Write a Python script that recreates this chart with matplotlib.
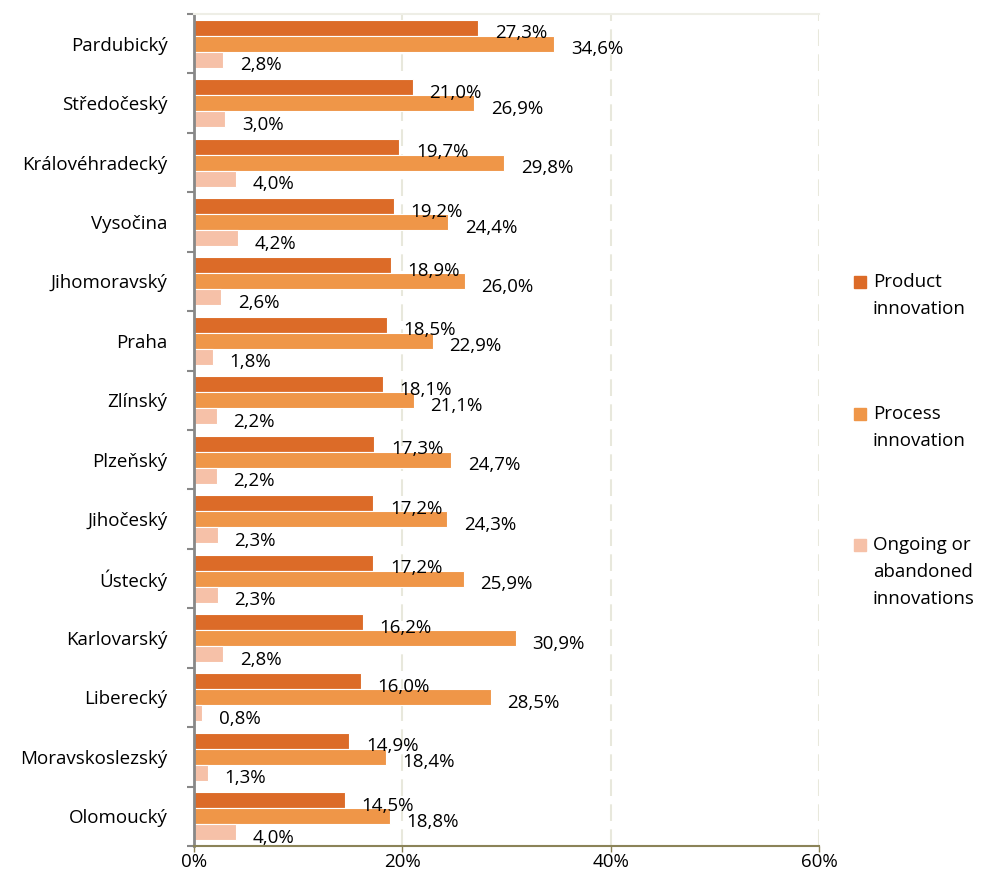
import numpy as np
import matplotlib.pyplot as plt
from matplotlib.patches import Rectangle

plt.rcParams['font.family'] = ['Open Sans', 'DejaVu Sans']

regions = ['Pardubický', 'Středočeský', 'Královéhradecký', 'Vysočina', 'Jihomoravský',
           'Praha', 'Zlínský', 'Plzeňský', 'Jihočeský', 'Ústecký', 'Karlovarský',
           'Liberecký', 'Moravskoslezský', 'Olomoucký']
product = [27.3, 21.0, 19.7, 19.2, 18.9, 18.5, 18.1, 17.3, 17.2, 17.2, 16.2, 16.0, 14.9, 14.5]
process = [34.6, 26.9, 29.8, 24.4, 26.0, 22.9, 21.1, 24.7, 24.3, 25.9, 30.9, 28.5, 18.4, 18.8]
ongoing = [2.8, 3.0, 4.0, 4.2, 2.6, 1.8, 2.2, 2.2, 2.3, 2.3, 2.8, 0.8, 1.3, 4.0]

series = [('Product\ninnovation', product, '#DC6B28'),
          ('Process\ninnovation', process, '#EF9648'),
          ('Ongoing or\nabandoned\ninnovations', ongoing, '#F6C1A8')]

fs = 13.5

fig = plt.figure(figsize=(9.82, 8.94), dpi=100)
ax = fig.add_axes([194 / 982, 1 - 846 / 894, (819 - 194) / 982, (846 - 14) / 894])

y = np.arange(len(regions))
h = 0.27
for i, (name, vals, col) in enumerate(series):
    pos = y + (i - 1) * h
    ax.barh(pos, vals, height=h, color=col, edgecolor='white', linewidth=0.8)
    for p, v in zip(pos, vals):
        ax.annotate(f'{v:.1f}%'.replace('.', ','), (v, p), xytext=(12, -4),
                    textcoords='offset points', ha='left', va='center', fontsize=fs)

ax.set_xlim(0, 60)
ax.set_ylim(len(regions) - 0.5, -0.5)
ax.set_xticks([0, 20, 40, 60])
ax.set_xticklabels(['0%', '20%', '40%', '60%'], fontsize=fs)
ax.set_yticks(y)
ax.set_yticklabels(regions, fontsize=fs)
ax.set_yticks(np.arange(len(regions) + 1) - 0.5, minor=True)
ax.tick_params(axis='y', which='major', length=0, pad=19)
ax.tick_params(axis='y', which='minor', length=5, width=1.5, color='#888888')
ax.tick_params(axis='x', length=4, width=1, color='#8B8358', pad=1)

ax.xaxis.grid(True, color='#E8E8DC', linestyle=(0, (8, 4)), linewidth=1.5)
ax.set_axisbelow(True)
ax.spines['left'].set_color('#888888')
ax.spines['left'].set_linewidth(2)
ax.spines['bottom'].set_color('#8B8358')
ax.spines['bottom'].set_linewidth(1.5)
ax.spines['top'].set_color('#EEEEE6')
ax.spines['top'].set_linewidth(1.5)
ax.spines['right'].set_visible(False)

# legend entries, square marker beside the first line of each label
legend_y = [282, 414, 545]
for (name, vals, col), ly in zip(series, legend_y):
    fig.patches.append(Rectangle((854 / 982, 1 - (ly + 6) / 894), 12 / 982, 12 / 894,
                                 transform=fig.transFigure, color=col))
    fig.text(873 / 982, 1 - (ly - 9) / 894, name, ha='left', va='top',
             fontsize=fs, linespacing=1.65)

fig.savefig('out.png', dpi=100)
